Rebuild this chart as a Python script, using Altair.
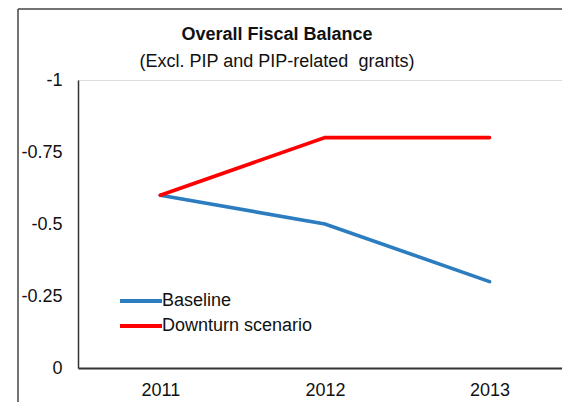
import altair as alt
import pandas as pd

years = [2011, 2012, 2013]
baseline = [-0.6, -0.5, -0.3]
downturn = [-0.6, -0.8, -0.8]
series_names = ["Baseline", "Downturn scenario"]
series_colors = ["#2B7DC0", "#FF0000"]
y_ticks = [-1, -0.75, -0.5, -0.25, 0]
title_text = "Overall Fiscal Balance"
subtitle_text = "(Excl. PIP and PIP-related\u00a0 grants)"

rows = []
for name, vals in zip(series_names, [baseline, downturn]):
    for yr, v in zip(years, vals):
        rows.append({"year": yr, "value": v, "series": name})
df = pd.DataFrame(rows)

FONT = "Liberation Sans"
FS = 18

lines = alt.Chart(df).mark_line(strokeWidth=3.6, strokeCap="round").encode(
    x=alt.X("year:Q",
            scale=alt.Scale(domain=[2010.5, 2013.44], nice=False, zero=False),
            axis=alt.Axis(values=years, format="d", ticks=False, grid=False, title=None,
                          domainColor="#333333", domainWidth=2, labelPadding=13,
                          labelFontSize=FS, labelFont=FONT, labelColor="#111111")),
    y=alt.Y("value:Q",
            scale=alt.Scale(domain=[-1, 0], reverse=True, nice=False, zero=False),
            axis=alt.Axis(values=y_ticks, ticks=False, grid=False, title=None,
                          labelExpr="datum.value == 0 ? '0' : '' + datum.value",
                          domainColor="#333333", domainWidth=1.5, labelPadding=16,
                          labelFontSize=FS, labelFont=FONT, labelColor="#111111")),
    color=alt.Color("series:N",
                    scale=alt.Scale(domain=series_names, range=series_colors),
                    legend=alt.Legend(orient="none", legendX=54, legendY=212, title=None,
                                      symbolType="M-3,0H3", symbolSize=196,
                                      symbolStrokeWidth=4, labelFontSize=FS,
                                      labelFont=FONT, labelColor="#111111",
                                      labelOffset=12, rowPadding=7)),
    detail="series:N",
)

frame_data = alt.Data(values=[{"k": 1}])
frame_left = alt.Chart(frame_data).mark_rule(color="#444444", strokeWidth=1.5).encode(
    x=alt.value(-60), y=alt.value(-71), y2=alt.value(330))
frame_top = alt.Chart(frame_data).mark_rule(color="#444444", strokeWidth=1.5).encode(
    x=alt.value(-60), x2=alt.value(484), y=alt.value(-71))

title_mark = alt.Chart(alt.Data(values=[{"t": title_text}])).mark_text(
    font=FONT, fontSize=18, fontWeight="bold", color="#111111", align="center", baseline="middle"
).encode(text="t:N", x=alt.value(199), y=alt.value(-45))
subtitle_mark = alt.Chart(alt.Data(values=[{"t": subtitle_text}])).mark_text(
    font=FONT, fontSize=18, color="#111111", align="center", baseline="middle"
).encode(text="t:N", x=alt.value(199), y=alt.value(-18))

chart = alt.layer(frame_left, frame_top, title_mark, subtitle_mark, lines).properties(
    width=484, height=288,
    autosize=alt.AutoSizeParams(type="none"),
    padding={"left": 70, "top": 72, "right": 0, "bottom": 34},
).configure_view(stroke=None).configure(background="white")

chart.save("out.html", embed_options={"renderer": "svg", "actions": False})
